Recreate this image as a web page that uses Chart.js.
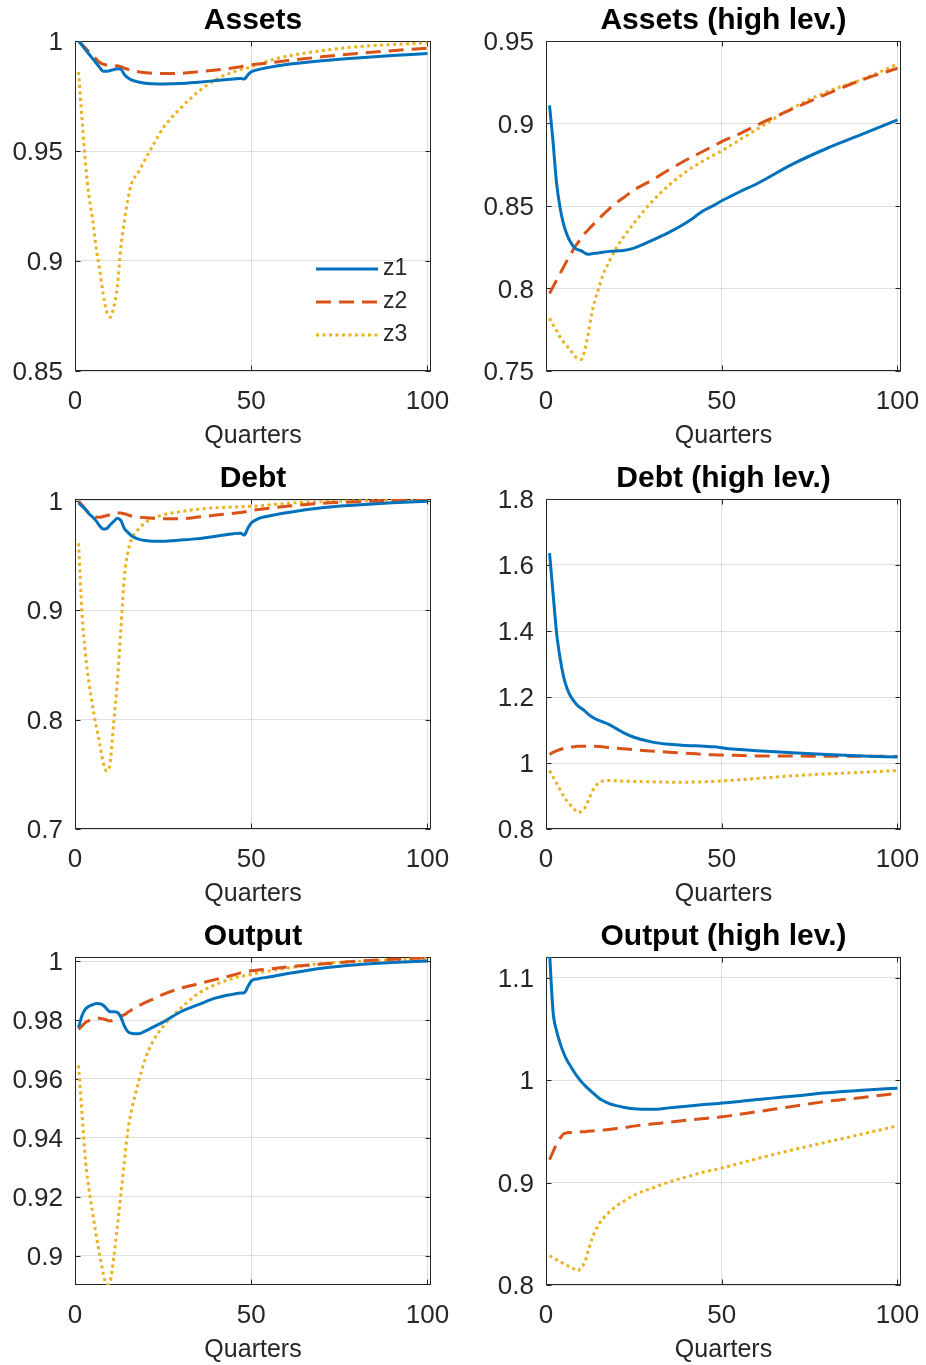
<!DOCTYPE html>
<html>
<head>
<meta charset="utf-8">
<script src="https://cdn.jsdelivr.net/npm/chart.js@4.4.1/dist/chart.umd.min.js"></script>
<style>
  html, body { margin: 0; padding: 0; background: #fff; overflow: hidden; }
  #fig { position: relative; width: 926px; height: 1365px; }
  #fig canvas { position: absolute; }
</style>
</head>
<body>
<div id="fig"></div>
<script>
// x grid shared by every series (quarters)
const quarters = [1, 2, 3, 4, 5, 6, 7, 8, 9, 10, 11, 12, 13, 14, 15, 16, 18, 20, 22, 25, 30, 35, 40, 45, 47, 48, 49, 50, 52, 55, 60, 70, 80, 90, 100];

const assetsZ1 = [1.000, 0.998, 0.996, 0.994, 0.992, 0.990, 0.988, 0.9862, 0.9862, 0.9866, 0.987, 0.9874, 0.9872, 0.9848, 0.9833, 0.9823, 0.9814, 0.9808, 0.9806, 0.9805, 0.9807, 0.9813, 0.982, 0.9827, 0.983, 0.9827, 0.9845, 0.986, 0.987, 0.988, 0.9893, 0.991, 0.9923, 0.9934, 0.9943];
const assetsZ2 = [1.000, 0.9984, 0.9967, 0.995, 0.9934, 0.9918, 0.9902, 0.9895, 0.989, 0.9887, 0.9886, 0.9887, 0.9883, 0.9877, 0.9871, 0.9866, 0.986, 0.9856, 0.9853, 0.9852, 0.9853, 0.986, 0.9868, 0.9878, 0.9883, 0.9886, 0.9889, 0.9892, 0.9895, 0.990, 0.991, 0.9928, 0.9943, 0.9956, 0.9967];
const assetsZ3 = [0.986, 0.9645, 0.944, 0.929, 0.919, 0.906, 0.896, 0.885, 0.877, 0.8745, 0.879, 0.888, 0.906, 0.918, 0.928, 0.935, 0.9405, 0.9465, 0.9522, 0.9605, 0.9695, 0.977, 0.9825, 0.986, 0.987, 0.9874, 0.9878, 0.9883, 0.9893, 0.991, 0.993, 0.9956, 0.9974, 0.9984, 0.9991];

const assetsHighZ1 = [0.911, 0.889, 0.864, 0.849, 0.839, 0.8325, 0.828, 0.825, 0.8235, 0.823, 0.8215, 0.8207, 0.821, 0.8213, 0.8216, 0.822, 0.8225, 0.8228, 0.823, 0.8245, 0.829, 0.834, 0.840, 0.8474, 0.8496, 0.8507, 0.852, 0.8532, 0.8553, 0.8585, 0.8635, 0.8752, 0.885, 0.8935, 0.9022];
const assetsHighZ2 = [0.797, 0.801, 0.805, 0.809, 0.813, 0.817, 0.8205, 0.8245, 0.8275, 0.8305, 0.8333, 0.8355, 0.8378, 0.840, 0.842, 0.8443, 0.8483, 0.8518, 0.855, 0.8597, 0.8655, 0.872, 0.878, 0.8835, 0.8857, 0.8868, 0.8879, 0.889, 0.891, 0.8937, 0.899, 0.9087, 0.918, 0.9265, 0.9335];
const assetsHighZ3 = [0.782, 0.778, 0.7745, 0.7705, 0.7675, 0.765, 0.7625, 0.7595, 0.7575, 0.757, 0.7625, 0.7725, 0.7845, 0.7935, 0.800, 0.807, 0.8165, 0.8245, 0.831, 0.8395, 0.8523, 0.8626, 0.871, 0.8777, 0.880, 0.8812, 0.8823, 0.8835, 0.886, 0.890, 0.8965, 0.9093, 0.9193, 0.9268, 0.936];

const debtZ1 = [0.998, 0.995, 0.992, 0.988, 0.985, 0.9815, 0.977, 0.974, 0.9745, 0.978, 0.981, 0.984, 0.982, 0.9745, 0.971, 0.968, 0.9648, 0.9635, 0.963, 0.963, 0.964, 0.9653, 0.9675, 0.9698, 0.9703, 0.9685, 0.9745, 0.9795, 0.9835, 0.986, 0.989, 0.9935, 0.996, 0.998, 0.9994];
const debtZ2 = [0.9995, 0.996, 0.992, 0.989, 0.9865, 0.985, 0.9848, 0.9855, 0.9864, 0.9872, 0.988, 0.9887, 0.9888, 0.988, 0.987, 0.986, 0.985, 0.9843, 0.984, 0.9835, 0.9835, 0.985, 0.9868, 0.9885, 0.9892, 0.9897, 0.9903, 0.991, 0.992, 0.993, 0.9948, 0.9975, 0.9989, 1.0003, 1.0015];
const debtZ3 = [0.961, 0.897, 0.859, 0.833, 0.812, 0.794, 0.778, 0.761, 0.753, 0.761, 0.798, 0.834, 0.882, 0.930, 0.953, 0.9644, 0.974, 0.980, 0.984, 0.987, 0.990, 0.9922, 0.9935, 0.9942, 0.9944, 0.9946, 0.9947, 0.9948, 0.9952, 0.996, 0.9975, 0.999, 0.9998, 1.0004, 1.001];

const debtHighZ1 = [1.636, 1.515, 1.395, 1.318, 1.262, 1.226, 1.202, 1.187, 1.174, 1.166, 1.158, 1.148, 1.140, 1.134, 1.129, 1.125, 1.116, 1.104, 1.092, 1.078, 1.064, 1.0565, 1.053, 1.051, 1.0495, 1.049, 1.048, 1.046, 1.0435, 1.041, 1.037, 1.031, 1.0255, 1.021, 1.018];
const debtHighZ2 = [1.026, 1.032, 1.037, 1.041, 1.044, 1.046, 1.048, 1.0495, 1.0505, 1.051, 1.051, 1.051, 1.0508, 1.0505, 1.050, 1.0495, 1.0467, 1.045, 1.043, 1.0403, 1.0363, 1.0325, 1.0295, 1.0262, 1.025, 1.0247, 1.0244, 1.024, 1.0236, 1.0228, 1.0215, 1.021, 1.0205, 1.0203, 1.020];
const debtHighZ3 = [0.977, 0.958, 0.939, 0.919, 0.900, 0.884, 0.872, 0.861, 0.850, 0.853, 0.863, 0.885, 0.911, 0.928, 0.940, 0.945, 0.947, 0.946, 0.945, 0.944, 0.943, 0.942, 0.942, 0.943, 0.944, 0.944, 0.945, 0.9455, 0.947, 0.949, 0.953, 0.961, 0.967, 0.972, 0.977];

const outputZ1 = [0.9774, 0.9815, 0.9838, 0.9847, 0.9852, 0.9856, 0.9855, 0.985, 0.9838, 0.9828, 0.9828, 0.9826, 0.981, 0.978, 0.976, 0.9755, 0.9753, 0.9763, 0.9775, 0.9793, 0.9828, 0.9852, 0.9875, 0.9888, 0.9892, 0.9892, 0.9912, 0.9932, 0.994, 0.9946, 0.9957, 0.9976, 0.9988, 0.9995, 1.000];
const outputZ2 = [0.9768, 0.978, 0.9792, 0.9798, 0.9802, 0.9805, 0.9806, 0.9804, 0.980, 0.9797, 0.980, 0.9806, 0.9813, 0.9818, 0.9826, 0.9834, 0.9848, 0.986, 0.987, 0.9887, 0.9908, 0.9923, 0.9938, 0.9953, 0.996, 0.9962, 0.9965, 0.9967, 0.997, 0.9973, 0.998, 0.999, 1.000, 1.0006, 1.0012];
const outputZ3 = [0.9646, 0.948, 0.932, 0.9224, 0.9145, 0.907, 0.9003, 0.894, 0.8902, 0.8913, 0.8994, 0.9097, 0.9205, 0.932, 0.9425, 0.949, 0.9588, 0.967, 0.9725, 0.9778, 0.984, 0.989, 0.9921, 0.9942, 0.9948, 0.995, 0.9952, 0.9955, 0.996, 0.9966, 0.9976, 0.9992, 0.9999, 1.0004, 1.0009];

const outputHighZ1 = [1.125, 1.067, 1.048, 1.036, 1.0266, 1.019, 1.0135, 1.0078, 1.003, 0.9985, 0.995, 0.9915, 0.9885, 0.9855, 0.9825, 0.9803, 0.977, 0.975, 0.9735, 0.972, 0.9714, 0.9728, 0.9745, 0.976, 0.9765, 0.9768, 0.977, 0.9775, 0.978, 0.979, 0.981, 0.9842, 0.9875, 0.990, 0.992];
const outputHighZ2 = [0.9223, 0.930, 0.9375, 0.943, 0.9475, 0.9485, 0.9488, 0.949, 0.9492, 0.9494, 0.9496, 0.950, 0.9502, 0.9504, 0.9507, 0.951, 0.9517, 0.9527, 0.9535, 0.955, 0.957, 0.9588, 0.9608, 0.9625, 0.963, 0.9634, 0.9637, 0.9641, 0.965, 0.9666, 0.969, 0.9742, 0.9792, 0.9829, 0.9871];
const outputHighZ3 = [0.8285, 0.8266, 0.8247, 0.8228, 0.821, 0.8192, 0.8174, 0.8156, 0.8138, 0.817, 0.822, 0.833, 0.8445, 0.8525, 0.859, 0.864, 0.8712, 0.877, 0.8815, 0.8877, 0.8943, 0.9005, 0.9055, 0.9103, 0.9118, 0.9125, 0.9133, 0.9142, 0.9158, 0.9186, 0.9232, 0.9317, 0.9395, 0.9473, 0.9553];

// tick labels and axis limits
const xTicks = [0, 50, 100];
const xRange = [0, 101];
const assetsTicks = [0.85, 0.9, 0.95, 1];
const assetsHighTicks = [0.75, 0.8, 0.85, 0.9, 0.95];
const debtTicks = [0.7, 0.8, 0.9, 1];
const debtHighTicks = [0.8, 1, 1.2, 1.4, 1.6, 1.8];
const outputTicks = [0.9, 0.92, 0.94, 0.96, 0.98, 1];
const outputHighTicks = [0.8, 0.9, 1, 1.1];
const assetsRange = [0.85, 1];
const assetsHighRange = [0.75, 0.95];
const debtRange = [0.7, 1.0015];
const debtHighRange = [0.8, 1.8];
const outputRange = [0.890, 1.0014];
const outputHighRange = [0.8, 1.12];

const seriesLabels = ['z1', 'z2', 'z3'];
const panelTitles = ['Assets', 'Assets (high lev.)', 'Debt', 'Debt (high lev.)', 'Output', 'Output (high lev.)'];
const xLabel = 'Quarters';

// styling / layout
const FONT = '"Liberation Sans", Arial, sans-serif';
const TEXT = '#262626';
const GRID = 'rgba(38,38,38,0.15)';
const colors = ['#0072BD', '#D95319', '#EDB120'];
const dashes = [[], [15, 8], [3, 3.5]];

const COL_LEFT = [0, 463], CANVAS_W = 463;
const Y_AXIS_W = [75, 83];
const PAD_RIGHT = [32, 25];
const PLOT_TOP = [41, 499, 957];
const PLOT_H = [330, 330, 328];
const TITLE_H = 41, X_AXIS_H = 78;

const panels = [
  { series: [assetsZ1, assetsZ2, assetsZ3], range: assetsRange, ticks: assetsTicks, legend: true },
  { series: [assetsHighZ1, assetsHighZ2, assetsHighZ3], range: assetsHighRange, ticks: assetsHighTicks },
  { series: [debtZ1, debtZ2, debtZ3], range: debtRange, ticks: debtTicks },
  { series: [debtHighZ1, debtHighZ2, debtHighZ3], range: debtHighRange, ticks: debtHighTicks },
  { series: [outputZ1, outputZ2, outputZ3], range: outputRange, ticks: outputTicks },
  { series: [outputHighZ1, outputHighZ2, outputHighZ3], range: outputHighRange, ticks: outputHighTicks }
];

// matlab style box with inward ticks on all four sides
const boxPlugin = {
  id: 'matlabBox',
  beforeDatasetsDraw(chart) {
    const { ctx, chartArea: a, scales } = chart;
    const L = Math.round(a.left) + 0.5, R = Math.round(a.right) - 0.5;
    const T = Math.round(a.top) + 0.5, B = Math.round(a.bottom) - 0.5;
    ctx.save();
    ctx.strokeStyle = TEXT;
    ctx.lineWidth = 1;
    ctx.strokeRect(L, T, R - L, B - T);
    ctx.beginPath();
    scales.x.ticks.forEach(t => {
      const px = Math.round(scales.x.getPixelForValue(t.value)) + 0.5;
      ctx.moveTo(px, B); ctx.lineTo(px, B - 5);
      ctx.moveTo(px, T); ctx.lineTo(px, T + 5);
    });
    scales.y.ticks.forEach(t => {
      const py = Math.round(scales.y.getPixelForValue(t.value)) + 0.5;
      ctx.moveTo(L, py); ctx.lineTo(L + 5, py);
      ctx.moveTo(R, py); ctx.lineTo(R - 5, py);
    });
    ctx.stroke();
    ctx.restore();
  }
};

// legend drawn inside the first axes, no box
const legendPlugin = {
  id: 'insideLegend',
  afterDatasetsDraw(chart) {
    const { ctx, chartArea: a } = chart;
    ctx.save();
    chart.data.datasets.forEach((ds, k) => {
      const y = a.top + 228 + k * 33;
      const x0 = a.left + 241;
      ctx.beginPath();
      ctx.strokeStyle = ds.borderColor;
      ctx.lineWidth = ds.borderWidth;
      ctx.lineCap = 'butt';
      ctx.setLineDash(ds.borderDash);
      ctx.moveTo(x0, y);
      ctx.lineTo(x0 + 62, y);
      ctx.stroke();
      ctx.setLineDash([]);
      ctx.fillStyle = TEXT;
      ctx.font = '23px ' + FONT;
      ctx.textBaseline = 'middle';
      ctx.textAlign = 'left';
      ctx.fillText(ds.label, x0 + 67, y);
    });
    ctx.restore();
  }
};

const fig = document.getElementById('fig');

panels.forEach((p, i) => {
  const col = i % 2, row = Math.floor(i / 2);
  const h = TITLE_H + PLOT_H[row] + X_AXIS_H;
  const c = document.createElement('canvas');
  c.width = CANVAS_W;
  c.height = h;
  c.style.left = COL_LEFT[col] + 'px';
  c.style.top = (PLOT_TOP[row] - TITLE_H) + 'px';
  c.style.width = CANVAS_W + 'px';
  c.style.height = h + 'px';
  fig.appendChild(c);

  new Chart(c, {
    type: 'line',
    data: {
      datasets: p.series.map((vals, k) => ({
        label: seriesLabels[k],
        data: quarters.map((q, j) => ({ x: q, y: vals[j] })),
        borderColor: colors[k],
        borderWidth: 3,
        borderDash: dashes[k],
        borderCapStyle: 'butt',
        pointRadius: 0,
        fill: false,
        cubicInterpolationMode: 'monotone'
      }))
    },
    options: {
      responsive: false,
      animation: false,
      devicePixelRatio: 1,
      layout: { padding: { left: 0, right: PAD_RIGHT[col], top: 0, bottom: 0 } },
      plugins: {
        legend: { display: false },
        tooltip: { enabled: false },
        title: {
          display: true,
          fullSize: false,
          text: panelTitles[i],
          color: '#000',
          font: { family: FONT, size: 30, weight: 'bold', lineHeight: '30px' },
          padding: { top: 6, bottom: 5 }
        }
      },
      scales: {
        x: {
          type: 'linear',
          min: xRange[0],
          max: xRange[1],
          afterBuildTicks: s => { s.ticks = xTicks.map(v => ({ value: v })); },
          afterFit: s => { s.height = X_AXIS_H; s.paddingLeft = 0; s.paddingRight = 0; },
          grid: { color: GRID, drawTicks: false },
          border: { display: false },
          ticks: {
            color: TEXT,
            font: { family: FONT, size: 26, lineHeight: '26px' },
            padding: 18,
            maxRotation: 0,
            autoSkip: false,
            callback: v => String(v)
          },
          title: {
            display: true,
            text: xLabel,
            color: TEXT,
            font: { family: FONT, size: 25, lineHeight: '26px' },
            padding: { top: 0, bottom: 0 }
          }
        },
        y: {
          type: 'linear',
          min: p.range[0],
          max: p.range[1],
          afterBuildTicks: s => { s.ticks = p.ticks.map(v => ({ value: v })); },
          afterFit: s => { s.width = Y_AXIS_W[col]; s.paddingTop = 0; s.paddingBottom = 0; },
          grid: { color: GRID, drawTicks: false },
          border: { display: false },
          ticks: {
            color: TEXT,
            font: { family: FONT, size: 26, lineHeight: '26px' },
            padding: 12,
            labelOffset: 2,
            autoSkip: false,
            callback: v => String(v)
          }
        }
      }
    },
    plugins: p.legend ? [boxPlugin, legendPlugin] : [boxPlugin]
  });
});
</script>
</body>
</html>
